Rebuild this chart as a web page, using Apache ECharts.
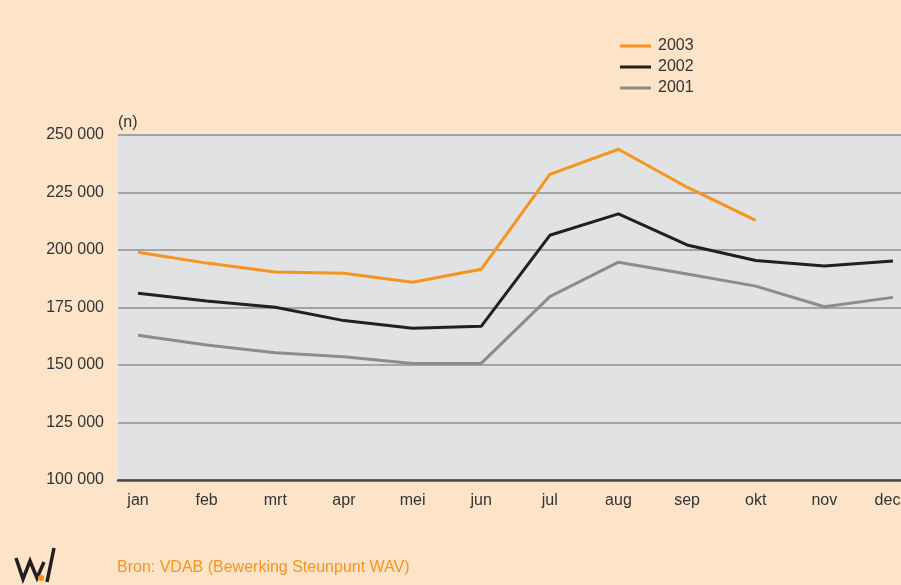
<!DOCTYPE html>
<html>
<head>
<meta charset="utf-8">
<script src="https://cdn.jsdelivr.net/npm/echarts@6/dist/echarts.min.js"></script>
<style>
  html, body { margin: 0; padding: 0; background: #fde4c9; }
  #chart { width: 901px; height: 585px; }
</style>
</head>
<body>
<div id="chart"></div>
<script>
var months = ['jan', 'feb', 'mrt', 'apr', 'mei', 'jun', 'jul', 'aug', 'sep', 'okt', 'nov', 'dec']
var y2003 = [199000, 194300, 190400, 189900, 186000, 191600, 232900, 243800, 227300, 212900, null, null]
var y2002 = [181200, 177800, 175100, 169300, 166000, 166800, 206400, 215700, 202200, 195400, 193000, 195200]
var y2001 = [162900, 158700, 155300, 153600, 150700, 150700, 179700, 194700, 189600, 184300, 175300, 179400]
var seriesNames = ['2003', '2002', '2001']
var seriesColors = ['#f7941d', '#231f20', '#8c8c8c']

var font = '"Liberation Sans", Arial, sans-serif'
var chart = echarts.init(document.getElementById('chart'))

function fmt(v) {
  return String(v).replace(/\B(?=(\d{3})+(?!\d))/g, ' ')
}

function line(name, data, color) {
  return {
    name: name,
    type: 'line',
    xAxisIndex: 1,
    yAxisIndex: 1,
    data: data,
    symbol: 'none',
    connectNulls: false,
    lineStyle: { color: color, width: 3 },
    itemStyle: { color: color }
  }
}

// laatste label iets naar links, zodat het binnen de rand blijft
var monthData = months.map(function(m, i) {
  if (i === months.length - 1) {
    return { value: m, textStyle: { padding: [0, 11, 0, 0] } }
  }
  return m
})

chart.setOption({
  backgroundColor: '#fde4c9',
  animation: false,
  textStyle: { fontFamily: font },
  legend: {
    orient: 'vertical',
    left: 620,
    top: 38,
    padding: 0,
    icon: 'rect',
    itemWidth: 31,
    itemHeight: 3,
    itemGap: 5,
    data: seriesNames,
    textStyle: { fontFamily: font, fontSize: 16, color: '#333', padding: [0, 0, 0, 2] }
  },
  grid: [
    { left: 118, right: 0, top: 135, bottom: 105, show: true, backgroundColor: '#e1e2e4', borderWidth: 0, outerBoundsMode: 'none' },
    { left: 138, right: 8, top: 135, bottom: 105, outerBoundsMode: 'none' }
  ],
  xAxis: [
    {
      type: 'value', gridIndex: 0, min: 0, max: 1,
      axisLine: { show: true, lineStyle: { color: '#4a4a4a', width: 2.5 } },
      axisTick: { show: false }, axisLabel: { show: false }, splitLine: { show: false }
    },
    {
      type: 'category', gridIndex: 1, data: monthData, boundaryGap: false,
      axisLine: { show: false }, axisTick: { show: false },
      axisLabel: { margin: 13, fontSize: 16, color: '#333', fontFamily: font },
      splitLine: { show: false }
    }
  ],
  yAxis: [
    {
      type: 'value', gridIndex: 0, min: 100000, max: 250000, interval: 25000,
      name: '(n)', nameLocation: 'end', nameGap: 4,
      nameTextStyle: { align: 'left', fontSize: 16, color: '#333', fontFamily: font },
      axisLine: { show: false }, axisTick: { show: false },
      axisLabel: { margin: 14, fontSize: 16, color: '#333', fontFamily: font, formatter: fmt },
      splitLine: { lineStyle: { color: '#a3a3a5', width: 2 } }
    },
    {
      type: 'value', gridIndex: 1, min: 100000, max: 250000, interval: 25000, show: false,
      splitLine: { show: false }
    }
  ],
  graphic: [
    {
      type: 'text', left: 117, top: 560,
      style: { text: 'Bron: VDAB (Bewerking Steunpunt WAV)', fill: '#f7941d', font: '16px ' + font }
    },
    {
      type: 'polyline',
      shape: { points: [[16, 558], [23, 579], [30, 561], [37, 578], [44, 562]] },
      style: { stroke: '#231f20', lineWidth: 3.5, fill: null, lineJoin: 'miter' }
    },
    {
      type: 'polyline',
      shape: { points: [[47, 582], [54, 548]] },
      style: { stroke: '#231f20', lineWidth: 3.5, fill: null }
    },
    {
      type: 'circle',
      shape: { cx: 41, cy: 578, r: 3 },
      style: { fill: '#f7941d' }
    }
  ],
  series: [
    line(seriesNames[0], y2003, seriesColors[0]),
    line(seriesNames[1], y2002, seriesColors[1]),
    line(seriesNames[2], y2001, seriesColors[2])
  ]
})
</script>
</body>
</html>
